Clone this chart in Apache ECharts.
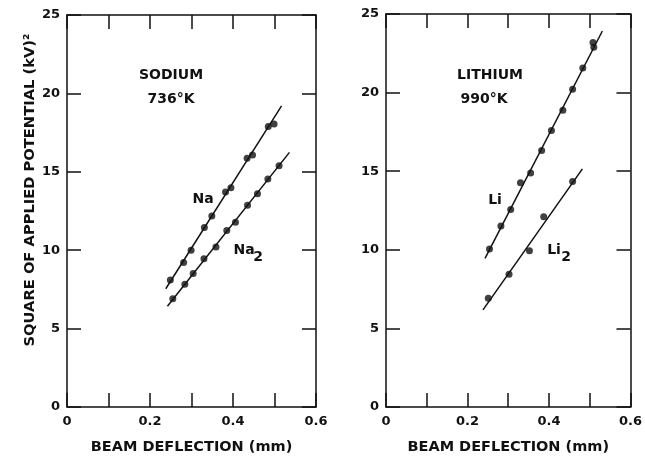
<!DOCTYPE html>
<html><head><meta charset="utf-8">
<script src="https://cdn.jsdelivr.net/npm/echarts@6/dist/echarts.min.js"></script>
<style>html,body{margin:0;padding:0;background:#fff}#c{width:645px;height:460px}</style>
</head><body><div id="c"></div>
<script>
// ---- data ----
const xTicks = [0, 0.2, 0.4, 0.6];
const yTicks = [0, 5, 10, 15, 20, 25];
const naX  = [0.249, 0.281, 0.299, 0.331, 0.349, 0.382, 0.395, 0.434, 0.447, 0.485, 0.499];
const naY  = [8.10, 9.21, 9.99, 11.45, 12.18, 13.71, 13.98, 15.86, 16.07, 17.89, 18.05];
const naFitX = [0.238, 0.517];
const naFitY = [7.54, 19.21];
const na2X = [0.255, 0.284, 0.304, 0.330, 0.359, 0.385, 0.406, 0.435, 0.459, 0.484, 0.511];
const na2Y = [6.91, 7.83, 8.52, 9.46, 10.21, 11.26, 11.78, 12.87, 13.60, 14.54, 15.38];
const na2FitX = [0.242, 0.536];
const na2FitY = [6.43, 16.24];
const liX  = [0.254, 0.282, 0.306, 0.330, 0.355, 0.382, 0.406, 0.434, 0.458, 0.483, 0.508, 0.510];
const liY  = [10.05, 11.51, 12.56, 14.27, 14.88, 16.32, 17.59, 18.87, 20.21, 21.56, 23.19, 22.88];
const liFitX = [0.243, 0.531];
const liFitY = [9.46, 23.92];
const li2X = [0.251, 0.302, 0.352, 0.387, 0.458];
const li2Y = [6.91, 8.44, 9.94, 12.10, 14.34];
const li2FitX = [0.238, 0.482];
const li2FitY = [6.18, 15.15];

const FONT = 'DejaVu Sans';
const pts = (xs, ys) => xs.map((x, i) => [x, ys[i]]);
const fmtX = v => { const r = Math.round(v * 10); if (r % 2) return ''; return r === 0 ? '0' : (r / 10).toFixed(1); };

function xAxes(gi) {
  const base = { type: 'value', gridIndex: gi, min: 0, max: 0.6, interval: 0.1,
    splitLine: { show: false },
    axisLine: { onZero: false, lineStyle: { color: '#111', width: 1.5 } },
    axisTick: { inside: true, length: 14, lineStyle: { color: '#111', width: 1.5 } } };
  return [
    Object.assign({}, base, { position: 'bottom',
      axisLabel: { formatter: fmtX, color: '#111', fontFamily: FONT, fontWeight: 'bold', fontSize: 13, margin: 8, showMaxLabel: true, showMinLabel: true },
      name: 'BEAM DEFLECTION (mm)', nameLocation: 'middle', nameGap: 33,
      nameTextStyle: { color: '#111', fontFamily: FONT, fontWeight: 'bold', fontSize: 14.5 } }),
    Object.assign({}, base, { position: 'top', axisLabel: { show: false } })
  ];
}
function yAxes(gi) {
  const base = { type: 'value', gridIndex: gi, min: 0, max: 25, interval: 5,
    splitLine: { show: false },
    axisLine: { onZero: false, lineStyle: { color: '#111', width: 1.5 } },
    axisTick: { inside: true, length: 14, lineStyle: { color: '#111', width: 1.5 } } };
  return [
    Object.assign({}, base, { position: 'left',
      axisLabel: { color: '#111', fontFamily: FONT, fontWeight: 'bold', fontSize: 13, margin: 7 } }),
    Object.assign({}, base, { position: 'right', axisLabel: { show: false } })
  ];
}

const xA = xAxes(0).concat(xAxes(1));
const yA = yAxes(0).concat(yAxes(1));

function scatter(xi, yi, xs, ys) {
  return { type: 'scatter', xAxisIndex: xi, yAxisIndex: yi, data: pts(xs, ys),
    symbol: 'circle', symbolSize: 7, itemStyle: { color: '#111' }, silent: true, z: 3 };
}
function fit(xi, yi, xs, ys) {
  return { type: 'line', xAxisIndex: xi, yAxisIndex: yi, data: pts(xs, ys),
    symbol: 'none', lineStyle: { color: '#111', width: 1.5 }, silent: true, z: 2 };
}

const txt = (x, y, s, extra) => ({ type: 'text', x: x, y: y, silent: true,
  style: Object.assign({ text: s, fill: '#111', font: 'bold 14px "' + FONT + '"', align: 'center', verticalAlign: 'middle' }, extra || {}) });

const chart = echarts.init(document.getElementById('c'), null, { renderer: 'canvas' });
chart.setOption({
  animation: false,
  backgroundColor: '#fff',
  grid: [
    { left: 67, top: 15, width: 249, height: 398.5 },
    { left: 386, top: 14, width: 250, height: 399.5 }
  ],
  xAxis: xA,
  yAxis: yA,
  series: [
    fit(0, 0, naFitX, naFitY), scatter(0, 0, naX, naY),
    fit(0, 0, na2FitX, na2FitY), scatter(0, 0, na2X, na2Y),
    fit(2, 2, liFitX, liFitY), scatter(2, 2, liX, liY),
    fit(2, 2, li2FitX, li2FitY), scatter(2, 2, li2X, li2Y)
  ],
  graphic: [
    txt(30, 190, 'SQUARE OF APPLIED POTENTIAL (kV)²', { font: 'bold 14.7px "' + FONT + '"' }),
    txt(171, 75, 'SODIUM'), txt(171, 99, '736°K'),
    txt(490, 75, 'LITHIUM'), txt(484, 99, '990°K'),
    txt(203, 199, 'Na'),
    txt(244, 250, 'Na'), txt(258, 257, '2'),
    txt(495, 200, 'Li'),
    txt(554, 250, 'Li'), txt(566, 257, '2')
  ].map((g, i) => i === 0 ? Object.assign(g, { rotation: Math.PI / 2 }) : g)
});
</script></body></html>
